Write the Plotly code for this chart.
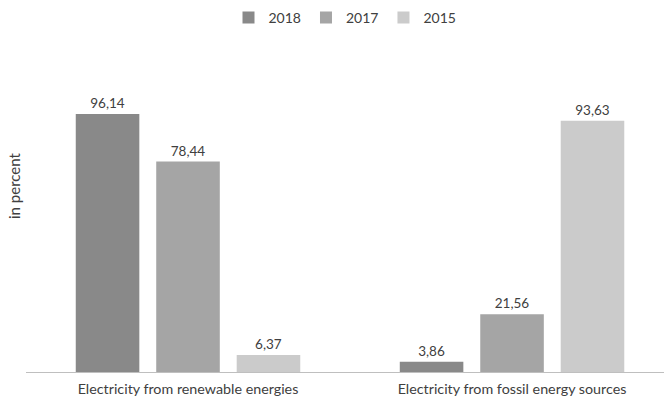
import plotly.graph_objects as go

categories = ["Electricity from renewable energies", "Electricity from fossil energy sources"]
series_names = ["2018", "2017", "2015"]
values_2018 = [96.14, 3.86]
values_2017 = [78.44, 21.56]
values_2015 = [6.37, 93.63]
colors = ["#898989", "#a5a5a5", "#cbcbcb"]

W, H = 664, 396
ml, mr, mt, mb = 26, 0, 50, 24

fig = go.Figure()
for name, vals, c in zip(series_names, [values_2018, values_2017, values_2015], colors):
    fig.add_trace(go.Bar(
        name=name, x=categories, y=vals, marker=dict(color=c, line=dict(width=0)),
        texttemplate="%{y:.2f}", textposition="outside", cliponaxis=False,
        textfont=dict(size=13.5, color="#404040"),
    ))

fig.update_layout(
    width=W, height=H,
    margin=dict(l=ml, r=mr, t=mt, b=mb),
    paper_bgcolor="white", plot_bgcolor="white",
    font=dict(family="Lato, Open Sans, sans-serif", size=13, color="#404040"),
    separators=",.",
    barmode="group", bargap=0.255, bargroupgap=0.21,
    showlegend=True,
    legend=dict(orientation="h", x=0.5, xanchor="center", y=1 + 32/322, yanchor="middle",
                font=dict(size=14, color="#404040"), itemwidth=30,
                traceorder="normal"),
    xaxis=dict(range=[-0.5, 1.469], showline=True, linecolor="#bfbfbf", linewidth=1,
               ticks="", showgrid=False, tickfont=dict(size=14.3, color="#404040"),
               ticklabelstandoff=4),
    yaxis=dict(range=[0, 120], showticklabels=False, showgrid=False, zeroline=False,
               showline=False, ticks=""),
    annotations=[dict(text="in percent", xref="paper", yref="paper",
                      x=(14 - ml) / (W - ml - mr), y=(372 - 186) / 322,
                      xanchor="center", yanchor="middle", textangle=-90,
                      showarrow=False, font=dict(size=15, color="#404040"))],
)

fig.write_html("out.html")
